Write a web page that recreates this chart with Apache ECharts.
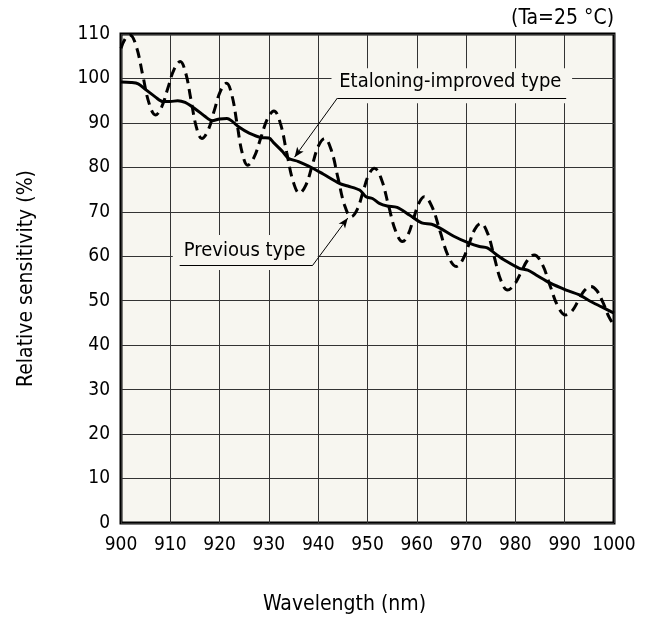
<!DOCTYPE html>
<html>
<head>
<meta charset="utf-8">
<title>Relative sensitivity</title>
<script src="https://cdn.jsdelivr.net/npm/echarts@6/dist/echarts.min.js"></script>
<style>
  html, body { margin: 0; padding: 0; background: #fff; }
  #main { width: 651px; height: 624px; }
</style>
</head>
<body>
<div id="main"></div>
<script>
// 字体与颜色
const FONT = "'DejaVu Sans Condensed', 'DejaVu Sans', sans-serif";
const PLOT_BG = '#f7f6f0';

// 数据：改良型（实线）
const improvedX = [900, 902, 903.5, 905, 907, 908.5, 910, 911.5, 913, 915, 917, 918.5, 920, 921.5, 922.5,
  924, 926, 928.5, 930, 931, 932.8, 934, 936, 938.9, 941, 944.3, 946, 948.4, 949.7, 951, 952.4, 954,
  956, 958.5, 961, 963, 964.6, 967.5, 970.5, 972.7, 974.3, 976, 978, 980.8, 982.5, 984.2, 987, 990.3,
  993, 995, 997.5, 1000];
const improvedY = [99.2, 99.1, 98.8, 97.5, 95.8, 94.8, 94.8, 95.0, 94.6, 93.2, 91.5, 90.5, 90.9, 91.0, 90.4,
  89.0, 87.7, 86.7, 86.6, 85.5, 83.5, 82.0, 81.3, 79.8, 78.5, 76.4, 75.8, 74.9, 73.4, 73.0, 71.9, 71.3,
  71.0, 69.3, 67.5, 67.2, 66.4, 64.5, 63.0, 62.2, 61.9, 60.5, 59.0, 57.3, 56.9, 55.8, 54.0, 52.4,
  51.3, 50.0, 48.6, 47.2];

// 数据：旧型（虚线）
const previousX = [900, 900.9, 901.8, 903.1, 904.4, 905.7, 907, 908.25, 909.5, 910.75, 912,
  913.1, 914.2, 915.3, 916.4, 917.65, 918.9, 920.15, 921.4, 922.5, 923.55, 924.6, 925.7,
  927.0, 928.35, 929.7, 931, 932.3, 933.6, 934.9, 936.2, 937.5, 938.75, 940.0, 941.3,
  942.65, 944.0, 945.35, 946.7, 947.9, 949.05, 950.2, 951.4, 952.8, 954.25, 955.7, 957.1,
  958.2, 959.3, 960.4, 961.5, 963.1, 964.75, 966.4, 968, 969.25, 970.5, 971.75, 973,
  974.35, 975.7, 977.05, 978.4, 979.75, 981.1, 982.45, 983.8, 985.4, 987.0, 988.6, 990.2,
  991.5, 992.75, 994.0, 995.3, 996.5, 997.8, 999, 1000];
const previousY = [106.8, 109.0, 109.8, 107.2, 100.8, 94.4, 91.8, 93.6, 97.8, 102.0, 103.8,
  101.3, 95.2, 89.0, 86.5, 88.3, 92.7, 97.1, 98.9, 96.2, 89.7, 83.2, 80.5,
  82.3, 86.6, 90.9, 92.7, 90.0, 83.4, 76.9, 74.2, 76.0, 80.3, 84.7, 86.5,
  83.9, 77.7, 71.5, 68.9, 70.5, 74.3, 78.2, 79.8, 77.4, 71.5, 65.7, 63.3,
  64.8, 68.3, 71.9, 73.4, 71.1, 65.5, 60.0, 57.7, 59.1, 62.5, 66.0, 67.4,
  65.2, 59.9, 54.6, 52.4, 53.6, 56.3, 59.1, 60.3, 58.3, 53.5, 48.8, 46.8,
  47.7, 50.0, 52.3, 53.2, 52.3, 49.5, 46.3, 44.5];

// 注释（数据坐标）
const annoImproved = {
  text: 'Etaloning-improved type',
  at: [966.8, 99.2],
  box: [942.7, 102.3, 991.5, 94.4],
  underline: [[943.9, 95.6], [990.3, 95.6]],
  leader: [[943.9, 95.6], [935.2, 82.3]]
};
const annoPrevious = {
  text: 'Previous type',
  at: [925.1, 61.3],
  box: [910.5, 64.8, 939.9, 56.9],
  underline: [[911.9, 58.0], [938.9, 58.0]],
  leader: [[938.9, 58.0], [946.0, 68.6]]
};
const annotations = [annoImproved, annoPrevious];

function zip(xs, ys) {
  return xs.map(function (x, i) { return [x, ys[i]]; });
}

function annoLines() {
  const out = [];
  annotations.forEach(function (a) {
    out.push([{ coord: a.underline[0] }, { coord: a.underline[1] }]);
    out.push([{ coord: a.leader[0] }, { coord: a.leader[1], symbol: 'arrow', symbolSize: [6, 10] }]);
  });
  return out;
}

const chart = echarts.init(document.getElementById('main'));

const option = {
  animation: false,
  backgroundColor: '#fff',
  textStyle: { fontFamily: FONT },
  title: {
    text: '(Ta=25 °C)',
    right: 32,
    top: 3,
    textStyle: { fontSize: 21, fontWeight: 'normal', color: '#000', fontFamily: FONT }
  },
  grid: {
    left: 121, right: 37, top: 34, bottom: 101,
    show: true,
    backgroundColor: PLOT_BG,
    borderColor: '#000',
    borderWidth: 3
  },
  xAxis: {
    type: 'value',
    min: 900, max: 1000, interval: 10,
    name: 'Wavelength (nm)',
    nameLocation: 'middle',
    nameGap: 71,
    nameTextStyle: { fontSize: 21, color: '#000', fontFamily: FONT, padding: [0, 46, 0, 0] },
    axisLine: { show: false },
    axisTick: { show: false },
    axisLabel: {
      fontSize: 19, color: '#000', margin: 13, fontFamily: FONT,
      formatter: function (v) { return String(v); }
    },
    splitLine: { show: true, lineStyle: { color: '#333', width: 1 } }
  },
  yAxis: {
    type: 'value',
    min: 0, max: 110, interval: 10,
    name: 'Relative sensitivity (%)',
    nameLocation: 'middle',
    nameGap: 84,
    nameTextStyle: { fontSize: 21, color: '#000', fontFamily: FONT },
    axisLine: { show: false },
    axisTick: { show: false },
    axisLabel: { fontSize: 19, color: '#000', margin: 11, fontFamily: FONT },
    splitLine: { show: true, lineStyle: { color: '#333', width: 1 } }
  },
  series: [
    {
      name: 'Previous type',
      type: 'line',
      data: zip(previousX, previousY),
      smooth: 0.4,
      symbol: 'none',
      z: 3,
      lineStyle: { color: '#000', width: 3, type: [10, 6] }
    },
    {
      name: 'Etaloning-improved type',
      type: 'line',
      data: zip(improvedX, improvedY),
      smooth: 0.3,
      symbol: 'none',
      z: 4,
      lineStyle: { color: '#000', width: 3 },
      markLine: {
        silent: true,
        symbol: ['none', 'none'],
        label: { show: false },
        lineStyle: { color: '#000', width: 1, type: 'solid' },
        data: annoLines()
      }
    }
  ]
};

chart.setOption(option);

// 注释文字与背景框
function placeLabels() {
  const g = [];
  annotations.forEach(function (a) {
    const p1 = chart.convertToPixel({ gridIndex: 0 }, [a.box[0], a.box[1]]);
    const p2 = chart.convertToPixel({ gridIndex: 0 }, [a.box[2], a.box[3]]);
    g.push({
      type: 'rect', z: 1,
      shape: { x: p1[0], y: p1[1], width: p2[0] - p1[0], height: p2[1] - p1[1] },
      style: { fill: PLOT_BG }
    });
    const c = chart.convertToPixel({ gridIndex: 0 }, a.at);
    g.push({
      type: 'text', z: 10,
      x: c[0], y: c[1],
      style: {
        text: a.text, fill: '#000', font: '20px ' + FONT,
        textAlign: 'center', textVerticalAlign: 'middle'
      }
    });
  });
  chart.setOption({ graphic: g });
}
placeLabels();
</script>
</body>
</html>
